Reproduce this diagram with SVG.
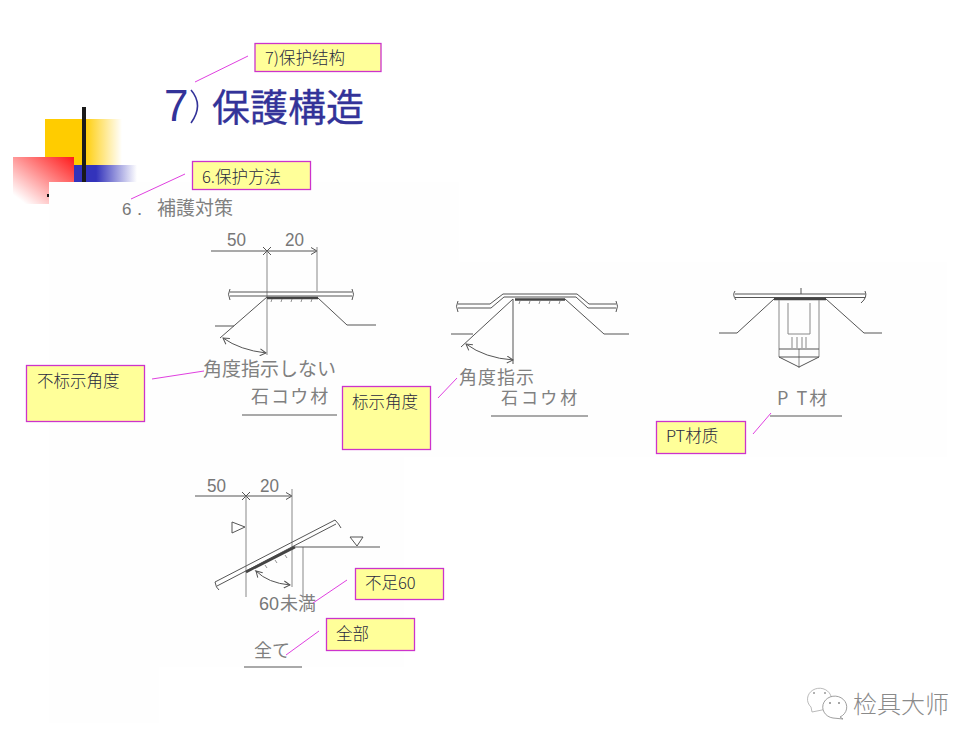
<svg xmlns="http://www.w3.org/2000/svg" width="980" height="747" viewBox="0 0 980 747">
<style>
.box{fill:#ffff99;stroke:#cc33cc;stroke-width:1.3}
.lbl{font-family:"Noto Sans CJK SC","Liberation Sans",sans-serif;font-size:16.5px;font-weight:300;fill:#2a2a40}
.con{stroke:#e040e0;stroke-width:1;fill:none}
.ink{stroke:#555;stroke-width:1;fill:none}
.thin{stroke:#888;stroke-width:1;fill:none}
.weld{stroke:#444;stroke-width:2.600;fill:none}
.hatch{stroke:#777;stroke-width:0.8;fill:none}
.scan{font-family:"Noto Sans CJK JP","Liberation Sans",sans-serif;fill:#808080;font-size:18px}
.num{font-family:"Liberation Sans",sans-serif;fill:#777;font-size:19px}
.title{font-family:"Noto Sans CJK JP","Liberation Sans",sans-serif;fill:#333399}
</style>
<defs>
<linearGradient id="gy" x1="0" x2="1" y1="0" y2="0"><stop offset="0" stop-color="#ffcc00"/><stop offset="0.5" stop-color="#ffcc00"/><stop offset="1" stop-color="#ffcc00" stop-opacity="0"/></linearGradient>
<linearGradient id="gb" x1="0" x2="1" y1="0" y2="0"><stop offset="0" stop-color="#3333bb"/><stop offset="0.35" stop-color="#3333bb"/><stop offset="1" stop-color="#3333bb" stop-opacity="0"/></linearGradient>
<linearGradient id="gr" x1="1" x2="0" y1="0" y2="1"><stop offset="0" stop-color="#ff1a1a"/><stop offset="0.9" stop-color="#ff1a1a" stop-opacity="0"/></linearGradient>
<marker id="ah" viewBox="0 0 8 8" refX="7" refY="4" markerWidth="8" markerHeight="8" orient="auto-start-reverse" markerUnits="userSpaceOnUse"><path d="M1 0.5L7 4L1 7.5" fill="none" stroke="#555" stroke-width="1"/></marker>
</defs>
<rect width="980" height="747" fill="#fff"/>
<g id="scan-bg" fill="#fefefe">
<rect x="49" y="182" width="410" height="80"/>
<rect x="49" y="262" width="898" height="195"/>
<rect x="49" y="457" width="355" height="210"/>
<rect x="49" y="667" width="110" height="56"/>
</g>
<g id="decor">
<rect x="45" y="119" width="77" height="46" fill="url(#gy)"/>
<rect x="74" y="165" width="63" height="17" fill="url(#gb)"/>
<rect x="82" y="107" width="4" height="75" fill="#1a1a1a"/>
<rect x="13" y="157" width="61" height="47" fill="#fff"/>
<rect x="13" y="157" width="61" height="47" fill="url(#gr)"/>
<rect x="49" y="182" width="36" height="22" fill="#fefefe"/>
<rect x="47" y="194" width="2" height="3" fill="#111"/>
</g>
<g id="title" class="title">
<text x="164" y="121" font-size="44" style="font-family:'Liberation Sans',sans-serif">7</text>
<path d="M191 90Q204 105 191 123" fill="none" stroke="#333399" stroke-width="1.6"/>
<text x="212" y="121" font-size="38" stroke="#333399" stroke-width="0.3">保護構造</text>
</g>
<g id="drawing-heading">
<text class="num" x="122" y="215" style="font-size:17px">6．</text>
<text class="scan" x="157" y="215" style="font-size:19px">補護対策</text>
</g>
<g id="detail-a">
<path class="ink" marker-end="url(#ah)" d="M211 251H317"/>
<path class="ink" d="M263 247L271 255M263 255L271 247"/>
<path class="thin" d="M267 251V355M317 247V291"/>
<path class="ink" d="M230 292H352M230 296H352"/>
<path class="ink" d="M230 289Q227 294 230 300M352 289Q355 294 352 300"/>
<path class="weld" d="M267 298H318"/>
<path class="hatch" d="M272 299L271 302M282 299L281 302M292 299L291 302M302 299L301 302M312 299L311 302"/>
<path class="ink" d="M220 338L267 297M215 326H234M318 298L347 325H376"/>
<path class="ink" marker-start="url(#ah)" marker-end="url(#ah)" d="M223 338Q240 350 266 353"/>
<text class="num" x="227" y="246" textLength="19" lengthAdjust="spacingAndGlyphs">50</text>
<text class="num" x="285" y="246" textLength="19" lengthAdjust="spacingAndGlyphs">20</text>
<text class="scan" x="203" y="376" style="font-size:19px">角度指示しない</text>
<text class="scan" x="251" y="403" letter-spacing="2">石コウ材</text>
<path class="ink" d="M242 415H337"/>
</g>
<g id="detail-b">
<path class="ink" d="M458 304H490L503 294H577L589 304H616M458 308H491L504 297H576L588 308H616"/>
<path class="ink" d="M458 301Q455 306 458 312M616 301Q619 306 616 312"/>
<path class="weld" d="M515 299.500H565"/>
<path class="hatch" d="M520 301L519 304M530 301L529 304M540 301L539 304M550 301L549 304M560 301L559 304"/>
<path class="ink" d="M461 347L513 299M451 334H473M513 299V364M565 299L604 334H629"/>
<path class="ink" marker-start="url(#ah)" marker-end="url(#ah)" d="M466 344Q485 358 513 360"/>
<text class="scan" x="459" y="384" letter-spacing="1" style="font-size:18px">角度指示</text>
<text class="scan" x="501" y="404" letter-spacing="3" style="font-size:17px">石コウ材</text>
<path class="ink" d="M491 416H588"/>
</g>
<g id="detail-c">
<path class="ink" d="M735 294H865M735 297.500H865M735 291Q732 295 736 300M865 291Q868 297 861 303M801 288V294"/>
<path class="weld" d="M774 299H826"/>
<path class="ink" d="M774 299L737 333H719M826 299L864 333H882"/>
<path class="thin" d="M779 300V357M819 300V357M788 303V334H810V303M792 337V348M797 337V348M802 337V348M806 337V348M799 349V368"/>
<path class="ink" d="M779 349H819M779 357L799 367L819 357H779"/>
<text class="scan" x="777" y="405" letter-spacing="2">P T材</text>
<path class="ink" d="M770 416H842"/>
</g>
<g id="detail-d">
<path class="ink" marker-end="url(#ah)" d="M195 496H292"/>
<path class="ink" d="M242 492L250 500M242 500L250 492"/>
<path class="thin" d="M246 496V597M292 489V587M303 547V600"/>
<path class="ink" d="M232 522L245 527L232 533Z"/>
<path class="ink" d="M215 582L335 520M217 586L336 524M335 520Q339 524 341 528M215 582Q216 588 219 590"/>
<path class="weld" d="M246 572L295 547"/>
<path class="hatch" d="M255 570L257 573M265 565L267 568M275 560L277 563M285 555L287 558"/>
<path class="ink" d="M295 547H380M350 537H363L357 546Z"/>
<path class="ink" marker-start="url(#ah)" marker-end="url(#ah)" d="M256 571Q268 583 290 585"/>
<text class="num" x="207" y="492" textLength="19" lengthAdjust="spacingAndGlyphs">50</text>
<text class="num" x="260" y="492" textLength="19" lengthAdjust="spacingAndGlyphs">20</text>
<text class="num" x="259" y="610" textLength="20" lengthAdjust="spacingAndGlyphs">60</text>
<text class="scan" x="280" y="610">未満</text>
<text class="scan" x="254" y="657">全て</text>
<path class="ink" d="M244 667H302"/>
</g>
<g id="connectors">
<path class="con" d="M195 82L248 56"/>
<path class="con" d="M131 199L185 174"/>
<path class="con" d="M152 379L204 371"/>
<path class="con" d="M438 398L457 378"/>
<path class="con" d="M753 434L771 413"/>
<path class="con" d="M313 603L347 580"/>
<path class="con" d="M286 655L319 631"/>
</g>
<g id="n-structure"><rect class="box" x="255" y="43.500" width="126" height="28"/><text class="lbl" x="265" y="64">7)保护结构</text></g>
<g id="n-method"><rect class="box" x="192.500" y="161.500" width="118" height="28"/><text class="lbl" x="202" y="183">6.保护方法</text></g>
<g id="n-noangle"><rect class="box" x="26.500" y="365.500" width="118" height="56"/><text class="lbl" x="37" y="387">不标示角度</text></g>
<g id="n-angle"><rect class="box" x="342.500" y="386.500" width="88" height="63"/><text class="lbl" x="352" y="408">标示角度</text></g>
<g id="n-pt"><rect class="box" x="656.500" y="421.500" width="89" height="32"/><text class="lbl" x="666" y="442">PT材质</text></g>
<g id="n-under60"><rect class="box" x="355.500" y="568.500" width="88" height="31"/><text class="lbl" x="365" y="589">不足60</text></g>
<g id="n-all"><rect class="box" x="326.500" y="618.500" width="88" height="32"/><text class="lbl" x="336" y="640">全部</text></g>
<g id="watermark">
<path d="M811 707A12 11 0 1 1 822 710L812 712Z" fill="#fff" stroke="#aaa" stroke-width="0.8"/>
<path d="M840 717A12 11 0 1 0 833 718L843 719Z" fill="#fff" stroke="#888" stroke-width="0.8"/>
<circle cx="814" cy="693" r="1" fill="#999"/><circle cx="825" cy="693" r="1" fill="#999"/>
<circle cx="830" cy="703" r="1" fill="#888"/><circle cx="839" cy="703" r="1" fill="#888"/>
<text x="853" y="713" font-size="24" fill="#8a8a8a" style="font-family:'Noto Sans CJK SC',sans-serif;font-weight:300">检具大师</text>
</g>
</svg>
